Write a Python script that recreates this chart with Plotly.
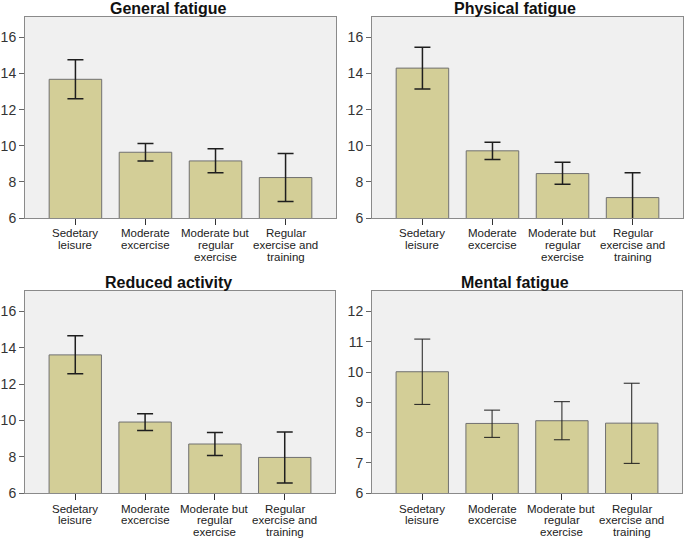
import plotly.graph_objects as go

categories = ["Sedetary<br>leisure", "Moderate<br>excercise", "Moderate but<br>regular<br>exercise", "Regular<br>exercise and<br>training"]
titles = ["General fatigue", "Physical fatigue", "Reduced activity", "Mental fatigue"]

general_mean = [13.68, 9.64, 9.16, 8.24]
general_lo = [12.60, 9.16, 8.50, 6.91]
general_hi = [14.76, 10.13, 9.83, 9.57]

physical_mean = [14.30, 9.72, 8.46, 7.13]
physical_lo = [13.15, 9.24, 7.87, 5.76]
physical_hi = [15.45, 10.20, 9.09, 8.50]

reduced_mean = [13.61, 9.91, 8.70, 7.96]
reduced_lo = [12.57, 9.45, 8.07, 6.55]
reduced_hi = [14.67, 10.36, 9.34, 9.36]

mental_mean = [10.01, 8.30, 8.39, 8.31]
mental_lo = [8.93, 7.84, 7.76, 6.98]
mental_hi = [11.09, 8.74, 9.02, 9.63]

y_ticks_main = [6, 8, 10, 12, 14, 16]
y_ticks_mental = [6, 7, 8, 9, 10, 11, 12]

W, H = 685, 539
panels = [
    (general_mean, general_lo, general_hi, (25, 336), (17, 218), [6, 17.13], y_ticks_main, 1.5),
    (physical_mean, physical_lo, physical_hi, (372, 683), (17, 218), [6, 17.13], y_ticks_main, 1.5),
    (reduced_mean, reduced_lo, reduced_hi, (25, 335), (291, 493), [6, 17.13], y_ticks_main, 1.5),
    (mental_mean, mental_lo, mental_hi, (372, 682), (291, 493), [6, 12.68], y_ticks_mental, 1.0),
]
title_pos = [(168, 9), (515, 9), (168, 282), (515, 282)]

fig = go.Figure()
layout = dict(
    width=W, height=H, margin=dict(l=0, r=0, t=0, b=0, autoexpand=False),
    paper_bgcolor="white", plot_bgcolor="#F0F0F0", showlegend=False,
    font=dict(family="Liberation Sans, Arial, sans-serif", color="#222"),
)
annotations = []
for i, (m, lo, hi, (x0, x1), (y0, y1), yr, yt, ew) in enumerate(panels):
    n = i + 1
    xa = "x" if n == 1 else f"x{n}"
    ya = "y" if n == 1 else f"y{n}"
    fig.add_trace(go.Bar(
        x=list(range(len(categories))), y=m,
        xaxis=xa, yaxis=ya, width=0.75,
        marker=dict(color="#D3CE97", line=dict(color="#707070", width=1)),
        error_y=dict(type="data", symmetric=False,
                     array=[h - v for h, v in zip(hi, m)],
                     arrayminus=[v - l for v, l in zip(m, lo)],
                     color="#1E1E1E", thickness=ew, width=8),
        hoverinfo="skip",
    ))
    xkey = "xaxis" if n == 1 else f"xaxis{n}"
    ykey = "yaxis" if n == 1 else f"yaxis{n}"
    layout[xkey] = dict(
        domain=[x0 / W, x1 / W], anchor=ya, range=[-0.72, 3.72],
        tickmode="array", tickvals=list(range(len(categories))), ticktext=[""] * len(categories),
        ticks="outside", ticklen=6, tickcolor="#333", tickwidth=1,
        showline=True, linecolor="#8A8A8A", linewidth=1, mirror=True,
        showgrid=False, zeroline=False, fixedrange=True, automargin=False,
    )
    layout[ykey] = dict(
        domain=[1 - y1 / H, 1 - y0 / H], anchor=xa, range=yr,
        tickmode="array", tickvals=yt,
        ticks="outside", ticklen=5, tickcolor="#666", tickwidth=1,
        showline=True, linecolor="#8A8A8A", linewidth=1, mirror=True,
        showgrid=False, zeroline=False, fixedrange=True, automargin=False,
        tickfont=dict(size=14, color="#333"),
    )
    # multi-line category labels with tight line spacing
    for k, lab in enumerate(categories):
        for j, line in enumerate(lab.split("<br>")):
            annotations.append(dict(
                text=line, x=k, xref=xa, y=1 - y1 / H, yref="paper",
                xanchor="center", yanchor="middle", showarrow=False,
                yshift=-(15.5 + j * 11.8), font=dict(size=11.5, color="#222"),
            ))
    tx, ty = title_pos[i]
    annotations.append(dict(
        text=f"<b>{titles[i]}</b>", x=tx / W, y=1 - ty / H, xref="paper", yref="paper",
        xanchor="center", yanchor="middle", showarrow=False,
        font=dict(size=16, color="#111"),
    ))
layout["annotations"] = annotations
fig.update_layout(**layout)
fig.write_html("out.html", config={"displayModeBar": False},
               post_script="document.body.style.margin='0';document.body.style.overflow='hidden';")
